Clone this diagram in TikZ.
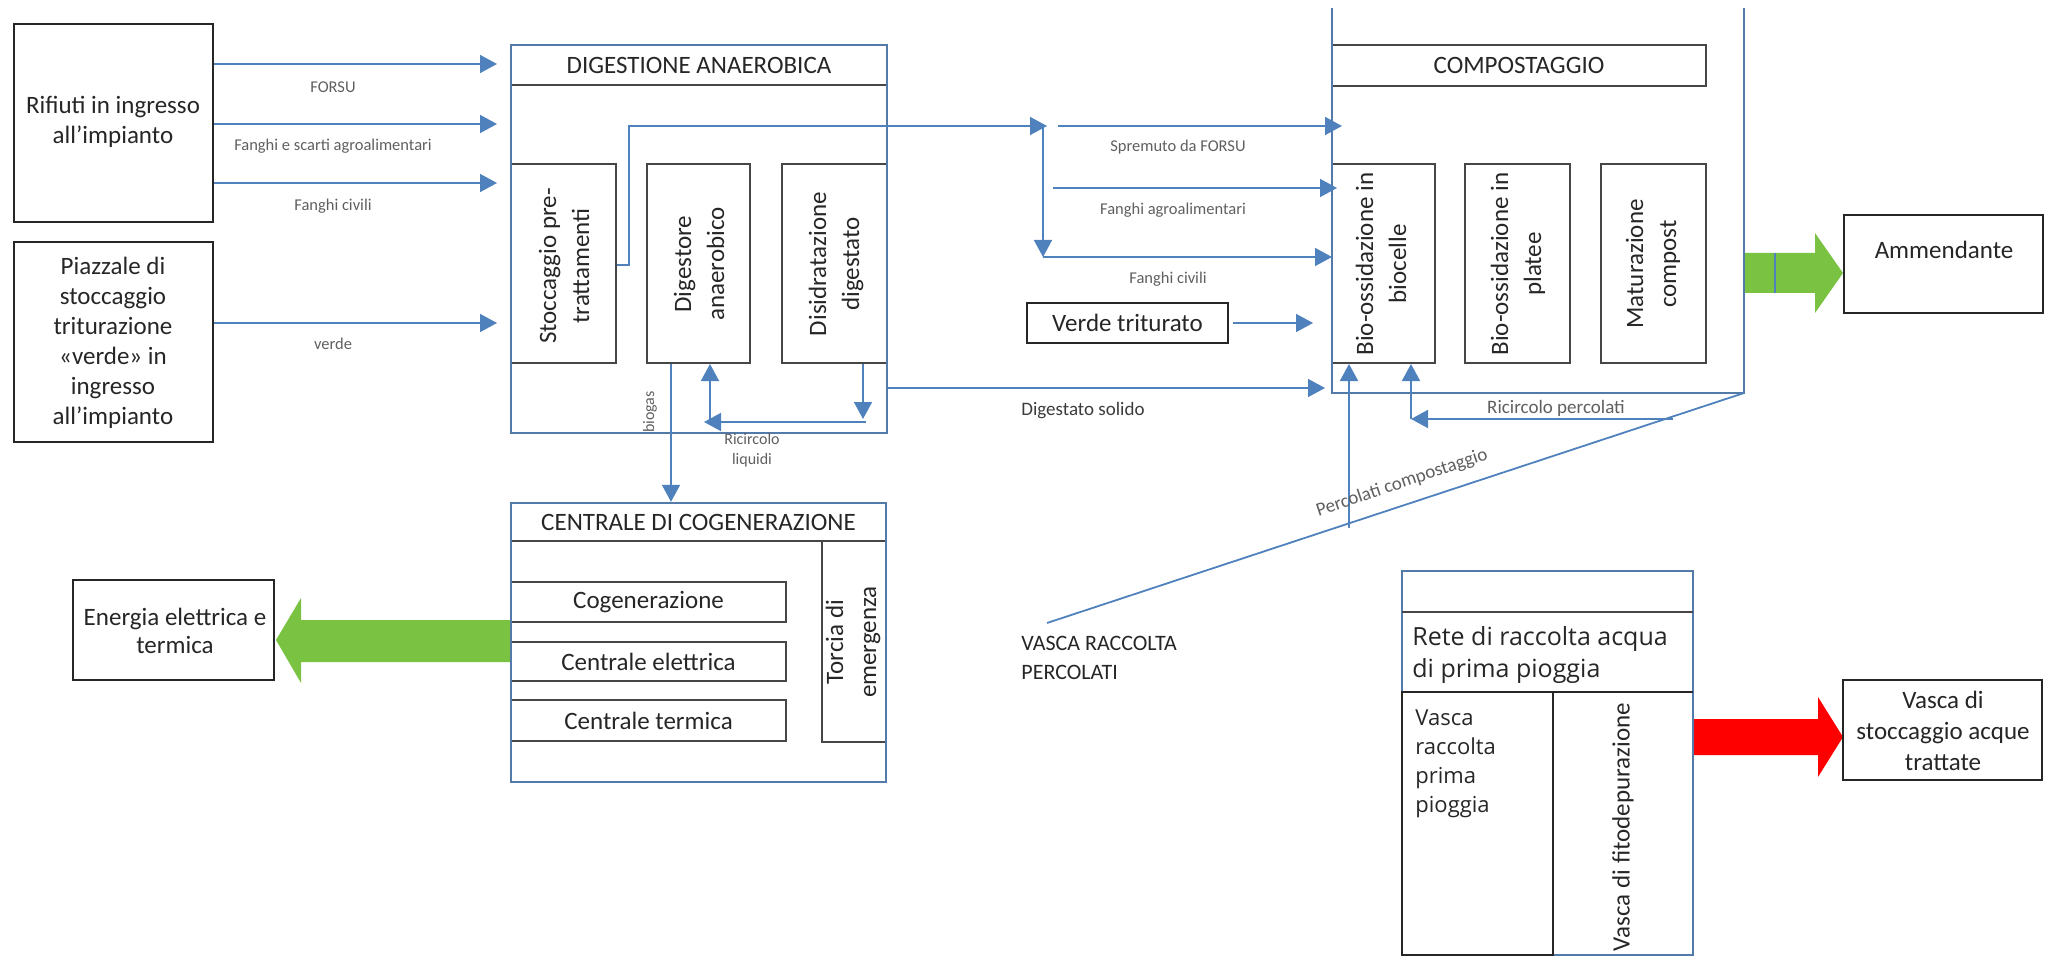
\documentclass[tikz,border=0pt]{standalone}
\usepackage{fontspec}
\setmainfont{Carlito}
\newfontfamily\osans{Open Sans}
\usetikzlibrary{arrows.meta,fit,calc}
\definecolor{cLine}{RGB}{79,129,189}
\definecolor{cBox}{RGB}{84,122,170}
\definecolor{cInner}{RGB}{70,70,70}
\definecolor{cGreen}{RGB}{122,194,66}
\definecolor{cRed}{RGB}{255,0,0}
\definecolor{cLab}{RGB}{95,95,95}
\definecolor{cDark}{RGB}{60,60,60}
\tikzset{
 outerbox/.style={draw=cBox, line width=1.2pt, inner sep=0pt},
 innerbox/.style={draw=cInner, line width=1pt, inner sep=0pt},
 blackbox/.style={draw=black!85, line width=1.1pt, inner sep=0pt},
 txt/.style={font=\fontsize{12.5}{15}\selectfont, align=center, inner sep=0pt, text=black!85},
 rtxt/.style={txt, rotate=90, font=\fontsize{12.5}{16.5}\selectfont},
 lab/.style={font=\fontsize{8.25}{10}\selectfont, text=cLab, inner sep=0pt},
 blab/.style={font=\fontsize{9.5}{11}\selectfont, text=cLab, inner sep=0pt},
 arr/.style={draw=cLine, line width=0.9pt, -{Triangle[length=8.5pt,width=9pt]}},
 conn/.style={draw=cLine, line width=0.9pt},
}
\begin{document}
\begin{tikzpicture}[x=0.5pt,y=-0.5pt]
\useasboundingbox (0,0) rectangle (2046,957);

% ---------- fat arrows (drawn first) ----------
\fill[cGreen] (511,620) -- (301,620) -- (301,598) -- (276,640) -- (301,683) -- (301,662) -- (511,662) -- cycle;
\fill[cGreen] (1744,253) -- (1815,253) -- (1815,233) -- (1843,273) -- (1815,313) -- (1815,293) -- (1744,293) -- cycle;
\draw[cLine, line width=0.8pt] (1775,253) -- (1775,293);
\fill[cRed] (1693,719) -- (1818,719) -- (1818,697) -- (1843,737) -- (1818,777) -- (1818,755) -- (1693,755) -- cycle;

% ---------- left input boxes ----------
\node[blackbox, fit={(14,24) (213,222)}] (rif) {};
\node[txt] (riftxt) at (113,122) {Rifiuti in ingresso\\all’impianto};
\node[blackbox, fit={(14,242) (213,442)}] (piaz) {};
\node[txt] (piaztxt) at (113,343) {Piazzale di\\stoccaggio\\triturazione\\«verde» in\\ingresso\\all’impianto};

% ---------- DIGESTIONE ANAEROBICA ----------
\node[innerbox, fit={(511,45) (887,85)}] (dighead) {};
\node[innerbox, fit={(511,164) (616,363)}] (stoc) {};
\node[innerbox, fit={(647,164) (750,363)}] (dgst) {};
\node[innerbox, fit={(782,164) (887,363)}] (disi) {};
\node[outerbox, fit={(511,45) (887,433)}] (dig) {};
\node[txt] (digt) at (dighead.center) {DIGESTIONE ANAEROBICA};
\node[rtxt] (stoct) at (564,266) {Stoccaggio pre-\\trattamenti};
\node[rtxt] (dgstt) at (699,264) {Digestore\\anaerobico};
\node[rtxt] (disit) at (836,264) {Disidratazione\\digestato};

% input arrows
\coordinate (i1) at (497,64);
\coordinate (i2) at (497,124);
\coordinate (i3) at (497,183);
\coordinate (i4) at (497,323);
\draw[arr] (rif.east |- i1) -- (i1);
\draw[arr] (rif.east |- i2) -- (i2);
\draw[arr] (rif.east |- i3) -- (i3);
\draw[arr] (piaz.east |- i4) -- (i4);
\node[lab] (l1) at (333,87) {FORSU};
\node[lab] (l2) at (333,146) {Fanghi e scarti agroalimentari};
\node[lab] (l3) at (333,206) {Fanghi civili};
\node[lab] (l4) at (333,344) {verde};

% ---------- CENTRALE DI COGENERAZIONE ----------
\node[innerbox, fit={(511,503) (886,541)}] (cenh) {};
\node[innerbox, fit={(511,582) (786,622)}] (cog) {};
\node[innerbox, fit={(511,642) (786,681)}] (cel) {};
\node[innerbox, fit={(511,700) (786,741)}] (cte) {};
\node[innerbox, fit={(822,541) (886,742)}] (torc) {};
\node[outerbox, fit={(511,503) (886,782)}] (cen) {};
\node[txt] (cent) at (cenh.center) {CENTRALE DI COGENERAZIONE};
\node[txt] (cogt) at (cog.center) {Cogenerazione};
\node[txt] (celt) at (cel.center) {Centrale elettrica};
\node[txt] (ctet) at (cte.center) {Centrale termica};
\node[rtxt] (torct) at (853,642) {Torcia di\\emergenza};

\node[blackbox, fit={(73,580) (274,680)}] (ene) {};
\node[txt, font=\fontsize{12.5}{14}\selectfont] (enet) at (175,631) {Energia elettrica e\\termica};

% biogas
\coordinate (bgx) at (671,0);
\draw[arr] (dgst.south -| bgx) -- (cen.north -| bgx);
\node[lab, rotate=90, font=\fontsize{8}{9}\selectfont] (bgl) at (650,412) {biogas};

% ricircolo liquidi
\coordinate (r1) at (863,419);
\draw[arr] (disi.south -| r1) -- (r1);
\coordinate (r2s) at (866,422);
\coordinate (r2) at (704,422);
\draw[arr] (r2s) -- (r2);
\coordinate (r3s) at (710,422);
\draw[arr] (r3s) -- (dgst.south -| r3s);
\node[lab, align=center, font=\fontsize{8}{10}\selectfont] (rll) at (752,450) {Ricircolo\\liquidi};

% stoccaggio -> junction
\coordinate (s1) at (629,265);
\coordinate (s2) at (629,126);
\coordinate (jt) at (1047,126);
\draw[arr] (stoc.east |- s1) -- (s1) -- (s2) -- (jt);
\coordinate (j0) at (1043,126);
\coordinate (j2) at (1043,257);
\draw[arr] (j0) -- (j2);

% ---------- COMPOSTAGGIO ----------
\node[innerbox, fit={(1332,45) (1706,86)}] (cmph) {};
\node[txt] (cmpt) at (cmph.center) {COMPOSTAGGIO};
\node[innerbox, fit={(1332,164) (1435,363)}] (bioc) {};
\node[innerbox, fit={(1465,164) (1570,363)}] (plat) {};
\node[innerbox, fit={(1601,164) (1706,363)}] (matu) {};
\coordinate (cTL) at (1332,8);
\coordinate (cBL) at (1332,393);
\coordinate (cBR) at (1744,393);
\coordinate (cTR) at (1744,8);
\draw[draw=cBox, line width=1.2pt] (cTL) -- (cBL) -- (cBR) -- (cTR);
\node[rtxt] (bioct) at (1381,264) {Bio-ossidazione in\\biocelle};
\node[rtxt] (platt) at (1518,264) {Bio-ossidazione in\\platee};
\node[rtxt] (matut) at (1653,264) {Maturazione\\compost};

% inputs to compostaggio
\coordinate (c1s) at (1058,126);
\coordinate (c1) at (1342,126);
\coordinate (c2s) at (1053,188);
\coordinate (c2) at (1337,188);
\coordinate (c3) at (1332,257);
\draw[arr] (c1s) -- (c1);
\draw[arr] (c2s) -- (c2);
\draw[arr] (j2) -- (c3);
\node[lab] (l5) at (1178,147) {Spremuto da FORSU};
\node[lab] (l6) at (1173,210) {Fanghi agroalimentari};
\node[lab] (l7) at (1168,279) {Fanghi civili};

\node[blackbox, fit={(1027,303) (1228,343)}] (vt) {};
\node[txt] (vtt) at (vt.center) {Verde triturato};
\coordinate (vte) at (1313,323);
\draw[arr] ($(vt.east)+(4,0)$) -- (vte);

\coordinate (dse) at (1325,388);
\draw[arr] (dig.east |- dse) -- (dse);
\node[blab, text=cDark] (dsl) at (1083,411) {Digestato solido};

% percolati
\coordinate (pv) at (1349,528);
\draw[arr] (pv) -- (bioc.south -| pv);
\coordinate (rp1) at (1673,419);
\coordinate (rp2) at (1411,419);
\draw[arr] (rp1) -- (rp2);
\draw[arr] (rp2) -- (bioc.south -| rp2);
\node[blab] (rpl) at (1556,408) {Ricircolo percolati};
\coordinate (vp) at (1047,623);
\draw[conn] (cBR) -- (vp);
\node[blab, rotate=18.5] (pcl) at (1402,483) {Percolati compostaggio};
\node[txt, font=\fontsize{11}{14.5}\selectfont, align=left, anchor=west] (vrp) at (1021,658) {VASCA RACCOLTA\\PERCOLATI};

% Ammendante
\node[blackbox, fit={(1844,215) (2043,313)}] (amm) {};
\node[txt] (ammt) at (1944,250) {Ammendante};

% ---------- Rete di raccolta ----------
\node[draw=cBox, line width=1.2pt, inner sep=0pt, fit={(1402,571) (1693,955)}] (rete) {};
\draw[draw=cInner, line width=1pt] (1402,612) -- (1693,612);
\draw[draw=black!85, line width=1.1pt] (1402,692) -- (1693,692);
\node[blackbox, fit={(1402,692) (1553,955)}] (vrpp) {};
\node[text=black!85, inner sep=0pt, font=\osans\fontsize{12.5}{16}\selectfont, align=left, anchor=west] (retet) at (1412,655) {Rete di raccolta acqua\\di prima pioggia};
\node[text=black!85, inner sep=0pt, font=\osans\fontsize{11}{14.5}\selectfont, align=left, anchor=west] (vrppt) at (1415,764) {Vasca\\raccolta\\prima\\pioggia};
\node[rtxt] (fitot) at (1623,827) {Vasca di fitodepurazione};

% Vasca di stoccaggio
\node[blackbox, fit={(1843,680) (2042,780)}] (vst) {};
\node[txt, font=\fontsize{12.5}{15.5}\selectfont] (vstt) at (1943,731) {Vasca di\\stoccaggio acque\\trattate};
\end{tikzpicture}
\end{document}
